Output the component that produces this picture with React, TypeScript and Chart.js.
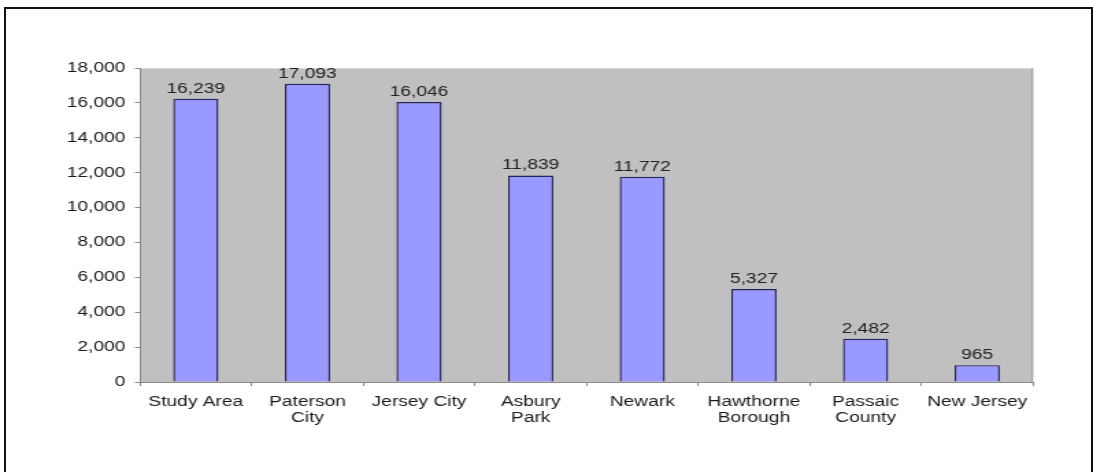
import React, { useEffect, useRef } from "react";
import { Chart, registerables } from "chart.js";

Chart.register(...registerables);

const categories: string[][] = [
  ["Study Area"],
  ["Paterson", "City"],
  ["Jersey City"],
  ["Asbury", "Park"],
  ["Newark"],
  ["Hawthorne", "Borough"],
  ["Passaic", "County"],
  ["New Jersey"],
];
const values: number[] = [16239, 17093, 16046, 11839, 11772, 5327, 2482, 965];
const yMin = 0;
const yMax = 18000;
const yStep = 2000;

// The reference is horizontally stretched; draw on a narrower canvas and stretch it with CSS.
const PAGE_W = 1093;
const PAGE_H = 472;
const STRETCH = 1.37;
const CANVAS_W = Math.round(PAGE_W / STRETCH);
const SX = PAGE_W / CANVAS_W;

const FONT = '"Liberation Sans", Arial, sans-serif';

const fmt = (v: number) => v.toLocaleString("en-US");

const bgPlugin = {
  id: "bgPlugin",
  beforeDraw(chart: any) {
    const { ctx, chartArea } = chart;
    ctx.save();
    ctx.fillStyle = "#ffffff";
    ctx.fillRect(0, 0, chart.width, chart.height);
    ctx.fillStyle = "#c0c0c0";
    ctx.fillRect(chartArea.left, chartArea.top, chartArea.right - chartArea.left, chartArea.bottom - chartArea.top);
    ctx.strokeStyle = "#d8d8d8";
    ctx.lineWidth = 1;
    ctx.beginPath();
    ctx.moveTo(chartArea.left, chartArea.top + 0.5);
    ctx.lineTo(chartArea.right, chartArea.top + 0.5);
    ctx.stroke();
    ctx.strokeStyle = "#9a9a9a";
    ctx.beginPath();
    ctx.moveTo(chartArea.right - 0.5, chartArea.top);
    ctx.lineTo(chartArea.right - 0.5, chartArea.bottom);
    ctx.stroke();
    ctx.restore();
  },
};

const labelPlugin = {
  id: "labelPlugin",
  afterDatasetsDraw(chart: any) {
    const { ctx } = chart;
    const meta = chart.getDatasetMeta(0);
    ctx.save();
    ctx.font = `14px ${FONT}`;
    ctx.fillStyle = "#222222";
    ctx.textAlign = "center";
    ctx.textBaseline = "alphabetic";
    meta.data.forEach((bar: any, i: number) => {
      ctx.fillText(fmt(values[i]), bar.x, bar.y - 6);
    });
    ctx.restore();
  },
};

export default function App() {
  const ref = useRef<HTMLCanvasElement | null>(null);

  useEffect(() => {
    if (!ref.current) return;
    const plotLeft = 140 / SX;
    const plotRight = 1033 / SX;
    const plotTop = 68;
    const plotBottom = 382;
    const chart = new Chart(ref.current, {
      type: "bar",
      data: {
        labels: categories,
        datasets: [
          {
            data: values,
            backgroundColor: "#9999ff",
            borderColor: "#23235e",
            borderWidth: 1.4,
            categoryPercentage: 1,
            barPercentage: 0.405,
          },
        ],
      },
      options: {
        responsive: false,
        animation: false,
        devicePixelRatio: 1,
        layout: {
          padding: { top: plotTop, left: 0, right: CANVAS_W - plotRight, bottom: 0 },
        },
        font: { family: FONT, size: 14 },
        color: "#1a1a1a",
        plugins: {
          legend: { display: false },
          title: { display: false },
          tooltip: { enabled: false },
        },
        scales: {
          x: {
            offset: true,
            afterFit: (s: any) => {
              s.height = PAGE_H - plotBottom;
            },
            grid: {
              offset: true,
              drawOnChartArea: false,
              tickLength: 4,
              color: "#8a8a8a",
            },
            border: { color: "#8a8a8a", width: 1 },
            ticks: {
              color: "#1a1a1a",
              font: { family: FONT, size: 14, lineHeight: 1.15 },
              padding: 8,
              maxRotation: 0,
              autoSkip: false,
            },
          },
          y: {
            min: yMin,
            max: yMax,
            afterFit: (s: any) => {
              s.width = plotLeft;
            },
            grid: {
              drawOnChartArea: false,
              tickLength: 5 / SX,
              color: "#8a8a8a",
            },
            border: { color: "#8a8a8a", width: 1 },
            ticks: {
              stepSize: yStep,
              color: "#1a1a1a",
              font: { family: FONT, size: 14 },
              padding: 7,
              callback: (v: any) => fmt(Number(v)),
            },
          },
        },
      },
      plugins: [bgPlugin, labelPlugin],
    });
    return () => chart.destroy();
  }, []);

  return (
    <div
      style={{
        position: "absolute",
        left: 0,
        top: 0,
        width: PAGE_W,
        height: PAGE_H,
        overflow: "hidden",
        background: "#ffffff",
      }}
    >
      <canvas
        ref={ref}
        width={CANVAS_W}
        height={PAGE_H}
        style={{ width: `${PAGE_W}px`, height: `${PAGE_H}px`, display: "block" }}
      />
      <div
        style={{
          position: "absolute",
          left: 4,
          top: 7,
          width: PAGE_W - 4,
          height: PAGE_H + 20,
          boxSizing: "border-box",
          border: "2.5px solid #111111",
          pointerEvents: "none",
        }}
      />
    </div>
  );
}
